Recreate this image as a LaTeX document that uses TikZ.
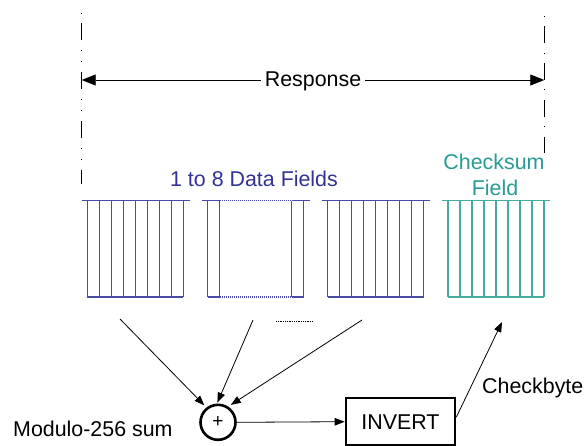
\documentclass[tikz,border=0pt]{standalone}
\usepackage{fontspec}
\setmainfont{Liberation Sans}
\usetikzlibrary{arrows.meta}
\definecolor{navytext}{RGB}{50,50,150}
\definecolor{navyline}{RGB}{75,75,165}
\definecolor{tealtext}{RGB}{38,156,146}
\definecolor{tealline}{RGB}{70,172,162}
\begin{document}
\begin{tikzpicture}[x=1pt,y=-1pt,
  lbl/.style={font=\fontsize{21.4}{25.7}\selectfont, inner sep=0pt},
  fieldline/.style={line width=1.1pt},
  dotseg/.style={line width=1.1pt, dash pattern=on 1pt off 1pt},
  bigarr/.style={{Triangle[length=14pt,width=11pt]}-{Triangle[length=14pt,width=11pt]}, line width=0.8pt},
  arr/.style={-{Triangle[length=10pt,width=7.5pt]}, line width=0.8pt},
  thickshape/.style={draw, line width=2.6pt, inner sep=0pt}]
\useasboundingbox (0,0) rectangle (585,445);

% dash-dot boundary lines
\coordinate (L1) at (81.7,12.4);
\coordinate (L2) at (81.7,183.5);
\coordinate (R1) at (544.3,15.7);
\coordinate (R2) at (544.3,153);
\draw[line width=1.1pt, dash pattern=on 16.5pt off 10.5pt on 0.7pt off 10.5pt on 0.7pt off 10pt, dash phase=38.1pt] (L1) -- (L2);
\draw[line width=1.1pt, dash pattern=on 16.6pt off 9.5pt on 0.7pt off 10pt, dash phase=26.1pt] (R1) -- (R2);

% Response arrow
\coordinate (RA) at (81.7,80);
\coordinate (RB) at (544.3,80);
\draw[bigarr] (RA) -- (RB);
\node[lbl, fill=white, inner xsep=4pt, inner ysep=2pt, anchor=base] (resp) at (313,86) {Response};

% labels above fields
\node[lbl, text=navytext, anchor=base] (dflabel) at (254,186) {1 to 8 Data Fields};
\node[lbl, text=tealtext, anchor=base] (cslabel1) at (494,169.3) {Checksum};
\node[lbl, text=tealtext, anchor=base] (cslabel2) at (495,195) {Field};

% Data field block 1
\begin{scope}[navyline, fieldline]
  \draw (81.5,200.5) -- (189.5,200.5);
  \draw (87.3,297) -- (183.3,297);
  \foreach \i in {0,...,8} \draw (87.3+12*\i,200.5) -- (87.3+12*\i,297);
\end{scope}

% Data field block 2 (elided middle)
\begin{scope}[navyline, fieldline]
  \draw (201.7,200.5) -- (219.7,200.5);
  \draw (291.7,200.5) -- (310,200.5);
  \draw (207.7,297) -- (219.7,297);
  \draw (291.7,297) -- (303.5,297);
  \foreach \x in {207.7,219.7,291.7,303.5} \draw (\x,200.5) -- (\x,297);
  \draw[dotseg] (219.7,200.5) -- (291.7,200.5);
  \draw[dotseg] (219.7,297) -- (291.7,297);
\end{scope}

% Data field block 3
\begin{scope}[navyline, fieldline]
  \draw (321.7,200.5) -- (430,200.5);
  \draw (327.7,297) -- (423.7,297);
  \foreach \i in {0,...,8} \draw (327.7+12*\i,200.5) -- (327.7+12*\i,297);
\end{scope}

% Checksum field
\begin{scope}[tealline, fieldline]
  \draw (441.7,200.5) -- (550,200.5);
  \draw (448,297) -- (544,297);
  \foreach \i in {0,...,8} \draw (448+12*\i,200.5) -- (448+12*\i,297);
\end{scope}

% small dotted mark below the elided block
\coordinate (D1) at (276,321);
\coordinate (D2) at (313,321);
\draw[line width=0.8pt, dash pattern=on 1pt off 0.8pt] (D1) -- (D2);

% summing junction and invert box
\node[thickshape, circle, minimum size=35pt] (sum) at (218,422.3) {\fontsize{19}{20}\selectfont +};
\node[thickshape, minimum width=109pt, minimum height=47.4pt, font=\fontsize{21.4}{25.7}\selectfont] (inv) at (400.5,421.7) {INVERT};
\node[lbl, anchor=base west] (modlbl) at (13,436.6) {Modulo-256 sum};
\node[lbl, anchor=base west] (cblbl) at (482,393) {Checkbyte};

% inputs to the sum
\coordinate (in1) at (120,319);
\coordinate (in2) at (253,320);
\coordinate (in3) at (362,320);
\draw[arr, shorten >=3pt] (in1) -- (sum.128);
\draw[arr, shorten >=1pt] (in2) -- (sum.93);
\draw[arr, shorten >=3pt] (in3) -- (sum.57);

% sum to invert, invert to checksum field
\draw[arr] (sum.east) -- (inv.west);
\coordinate (cbend) at (502,322);
\draw[arr] ([yshift=4.5pt]inv.east) -- (cbend);
\end{tikzpicture}
\end{document}
